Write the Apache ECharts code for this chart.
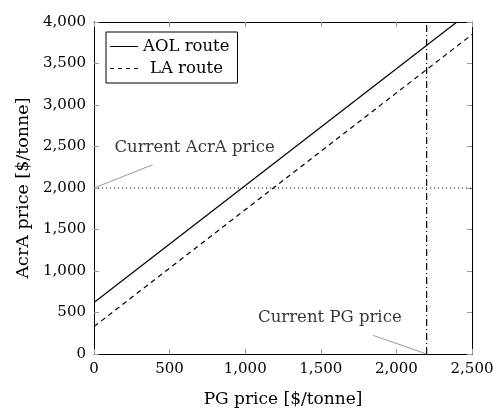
<!DOCTYPE html>
<html>
<head>
<meta charset="utf-8">
<script src="https://cdn.jsdelivr.net/npm/echarts@6/dist/echarts.min.js"></script>
<style>
html,body{margin:0;padding:0;background:#fff;}
#chart{width:493px;height:410px;}
</style>
</head>
<body>
<div id="chart"></div>
<script>
// Break-even AcrA price versus PG feedstock price for two routes
const aolRoute = [[0, 620], [2400, 4000]];
const laRoute = [[0, 330], [2500, 3850]];
const currentAcrA = 2000;
const currentPG = 2200;
const xTicks = [0, 500, 1000, 1500, 2000, 2500];
const yTicks = [0, 500, 1000, 1500, 2000, 2500, 3000, 3500, 4000];
const acraNote = { text: 'Current AcrA price', at: [665, 2480], from: [0, 2000], to: [388, 2280] };
const pgNote = { text: 'Current PG price', at: [1560, 440], from: [2200, 0], to: [1847, 224] };

const FONT = '"DejaVu Serif", "Liberation Serif", serif';
const fmt = v => v.toLocaleString('en-US');

// legend glyphs: a solid stroke and a dashed stroke
const solidIcon = 'path://M0,0H28V1H0Z';
const dashedIcon = 'path://M0,0H4V1H0Z M8,0H12V1H8Z M16,0H20V1H16Z M24,0H28V1H24Z';

const chart = echarts.init(document.getElementById('chart'), null, { renderer: 'canvas' });

function frameAxis(extra) {
  return Object.assign({
    type: 'value',
    axisLine: { show: true, onZero: false, lineStyle: { color: '#000', width: 1 } },
    axisTick: { show: true, inside: true, length: 5, lineStyle: { color: '#999' } },
    splitLine: { show: false },
    axisLabel: { show: false }
  }, extra);
}

const option = {
  animation: false,
  grid: { left: 94, right: 21, top: 22, bottom: 56, outerBoundsMode: 'none', containLabel: false },
  legend: {
    orient: 'vertical',
    left: 106, top: 32,
    padding: [6, 8, 6, 4],
    itemGap: 5,
    itemWidth: 28, itemHeight: 1.3,
    borderColor: '#000', borderWidth: 1,
    textStyle: { fontFamily: FONT, fontSize: 16.5, lineHeight: 17, color: '#000' },
    data: [
      { name: 'AOL route', icon: solidIcon },
      { name: 'LA route', icon: dashedIcon, textStyle: { padding: [0, 0, 0, 7] } }
    ]
  },
  xAxis: [
    frameAxis({
      min: xTicks[0], max: xTicks[xTicks.length - 1], interval: 500, position: 'bottom',
      name: 'PG price [$/tonne]', nameLocation: 'middle', nameGap: 37,
      nameTextStyle: { fontFamily: FONT, fontSize: 17, color: '#000' },
      axisLabel: { show: true, formatter: fmt, fontFamily: FONT, fontSize: 15, color: '#000', margin: 8 }
    }),
    frameAxis({ min: xTicks[0], max: xTicks[xTicks.length - 1], interval: 500, position: 'top' })
  ],
  yAxis: [
    frameAxis({
      min: yTicks[0], max: yTicks[yTicks.length - 1], interval: 500, position: 'left',
      name: 'AcrA price [$/tonne]', nameLocation: 'middle', nameGap: 61,
      nameTextStyle: { fontFamily: FONT, fontSize: 17.5, color: '#000' },
      axisLabel: { show: true, formatter: fmt, fontFamily: FONT, fontSize: 15, color: '#000', margin: 8 }
    }),
    frameAxis({ min: yTicks[0], max: yTicks[yTicks.length - 1], interval: 500, position: 'right' })
  ],
  series: [
    {
      name: 'AOL route', type: 'line', data: aolRoute, symbol: 'none', clip: true,
      lineStyle: { color: '#000', width: 1.2, type: 'solid' }, itemStyle: { color: '#000' }
    },
    {
      name: 'LA route', type: 'line', data: laRoute, symbol: 'none', clip: true,
      lineStyle: { color: '#000', width: 1.2, type: [5, 4] }, itemStyle: { color: '#000' }
    },
    {
      name: 'acra-level', type: 'line', symbol: 'none', silent: true,
      data: [[xTicks[0], currentAcrA], [xTicks[xTicks.length - 1], currentAcrA]],
      lineStyle: { color: '#000', width: 1.2, type: [1, 3] }
    },
    {
      name: 'pg-level', type: 'line', symbol: 'none', silent: true,
      data: [[currentPG, yTicks[0]], [currentPG, yTicks[yTicks.length - 1]]],
      lineStyle: { color: '#000', width: 1.2, type: [7, 3, 1, 3] }
    },
    {
      name: 'acra-leader', type: 'line', symbol: 'none', silent: true,
      data: [acraNote.from, acraNote.to], lineStyle: { color: '#999', width: 1 }
    },
    {
      name: 'pg-leader', type: 'line', symbol: 'none', silent: true,
      data: [pgNote.from, pgNote.to], lineStyle: { color: '#999', width: 1 }
    },
    {
      name: 'notes', type: 'scatter', symbolSize: 0, silent: true,
      data: [
        { value: acraNote.at, label: { formatter: acraNote.text } },
        { value: pgNote.at, label: { formatter: pgNote.text } }
      ],
      label: { show: true, position: 'inside', fontFamily: FONT, fontSize: 16.5, color: '#000' }
    }
  ]
};

chart.setOption(option);
</script>
</body>
</html>
